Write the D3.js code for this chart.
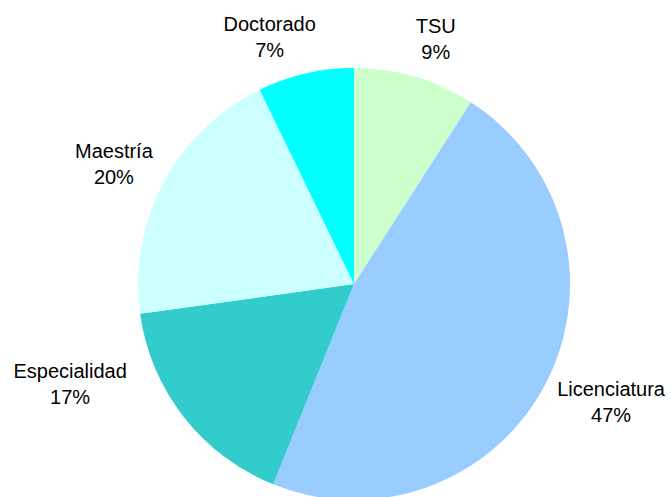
<!DOCTYPE html>
<html>
<head>
<meta charset="utf-8">
<script src="https://cdn.jsdelivr.net/npm/d3@7"></script>
<style>
  html, body { margin: 0; padding: 0; background: #fff; }
  svg { display: block; }
  text { font-family: "Liberation Sans", Arial, sans-serif; font-size: 20px; fill: #000; }
</style>
</head>
<body>
<svg id="chart" width="671" height="497"></svg>
<script>
// Data
const categories = ["TSU", "Licenciatura", "Especialidad", "Maestría", "Doctorado"];
const values = [9.1, 47.0, 16.7, 20.0, 7.2];
const colors = ["#CCFFCC", "#99CCFF", "#33CCCC", "#CCFFFF", "#00FFFF"];

const W = 671, H = 497;
const cx = 354, cy = 284, R = 216;

const svg = d3.select("#chart");
const g = svg.append("g").attr("transform", `translate(${cx},${cy})`);

const total = d3.sum(values);
const pie = d3.pie().sort(null).value(d => d.value);
const arcs = pie(categories.map((c, i) => ({ name: c, value: values[i], color: colors[i] })));

const arc = d3.arc().innerRadius(0).outerRadius(R);
g.selectAll("path.slice")
  .data(arcs)
  .join("path")
  .attr("class", "slice")
  .attr("d", arc)
  .attr("fill", d => d.data.color);

// Label placement: outer arc centroid with layout nudges (Excel best-fit style)
const labelArc = d3.arc().innerRadius(265).outerRadius(265);
const nudges = {
  "TSU": [7.0, 9.5],
  "Licenciatura": [21.7, -3.8],
  "Especialidad": [-75.0, -63.0],
  "Maestría": [-6.3, 4.9],
  "Doctorado": [-24.9, 11.2]
};

const labels = g.selectAll("g.label")
  .data(arcs)
  .join("g")
  .attr("class", "label")
  .attr("transform", d => {
    const [x, y] = labelArc.centroid(d);
    const n = nudges[d.data.name];
    return `translate(${x + n[0]},${y + n[1]})`;
  });

labels.append("text")
  .attr("text-anchor", "middle")
  .attr("y", -6)
  .text(d => d.data.name);
labels.append("text")
  .attr("text-anchor", "middle")
  .attr("y", 20)
  .text(d => Math.round(d.data.value / total * 100) + "%");
</script>
</body>
</html>
